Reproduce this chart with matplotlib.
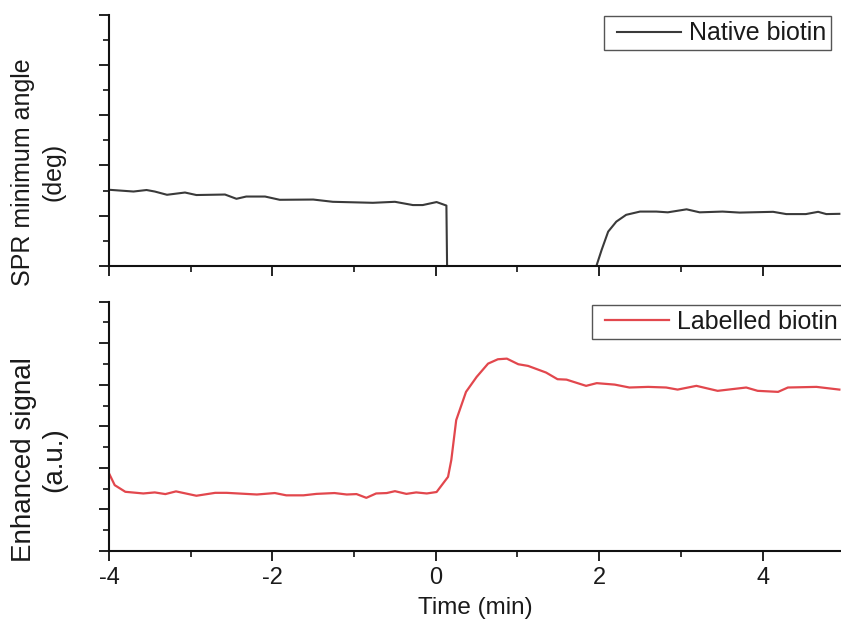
import matplotlib
matplotlib.use("Agg")
import numpy as np
import matplotlib.pyplot as plt
from matplotlib.ticker import MultipleLocator
from matplotlib.legend_handler import HandlerLine2D

plt.rcParams['font.family'] = ['Liberation Sans', 'DejaVu Sans']
plt.rcParams['axes.unicode_minus'] = False

# ---- data ----
native_t = [-4.00, -3.70, -3.54, -3.44, -3.29, -3.07, -2.93, -2.58, -2.44, -2.32,
            -2.09, -1.91, -1.50, -1.26, -0.77, -0.50, -0.28, -0.16, 0.01, 0.13,
            0.14, 1.00, 1.94, 1.97, 2.03, 2.11, 2.21, 2.33, 2.50, 2.70,
            2.84, 3.07, 3.23, 3.51, 3.72, 4.13, 4.29, 4.53, 4.68, 4.78, 4.94]
native_y = [3.03, 2.96, 3.02, 2.96, 2.83, 2.92, 2.82, 2.84, 2.67, 2.76,
            2.76, 2.63, 2.64, 2.55, 2.51, 2.55, 2.42, 2.42, 2.54, 2.40,
            -0.5, -0.5, -0.5, 0.03, 0.63, 1.36, 1.76, 2.03, 2.16, 2.16,
            2.13, 2.25, 2.13, 2.16, 2.12, 2.15, 2.06, 2.06, 2.15, 2.06, 2.07]

labelled_t = [-4.00, -3.93, -3.80, -3.58, -3.44, -3.31, -3.18, -2.93, -2.70, -2.56,
              -2.19, -1.97, -1.83, -1.62, -1.46, -1.24, -1.09, -0.97, -0.85, -0.73,
              -0.60, -0.50, -0.36, -0.24, -0.11, 0.01, 0.15, 0.19, 0.25, 0.37,
              0.50, 0.64, 0.76, 0.87, 1.01, 1.13, 1.35, 1.49, 1.60, 1.84,
              1.97, 2.19, 2.37, 2.60, 2.82, 2.96, 3.19, 3.45, 3.80, 3.94,
              4.19, 4.31, 4.66, 4.94]
labelled_y = [3.74, 3.17, 2.85, 2.77, 2.82, 2.74, 2.87, 2.66, 2.80, 2.80,
              2.72, 2.79, 2.68, 2.68, 2.75, 2.79, 2.72, 2.74, 2.56, 2.77,
              2.79, 2.88, 2.75, 2.82, 2.77, 2.84, 3.57, 4.38, 6.30, 7.66,
              8.38, 9.02, 9.23, 9.26, 8.99, 8.91, 8.59, 8.27, 8.25, 7.95,
              8.08, 8.01, 7.87, 7.90, 7.87, 7.77, 7.95, 7.71, 7.87, 7.71,
              7.66, 7.87, 7.90, 7.77]

xticks = [-4, -2, 0, 2, 4]
xtick_labels = ['-4', '-2', '0', '2', '4']


class PadHandler(HandlerLine2D):
    """Line handle with some empty space before the line starts."""
    def get_xdata(self, legend, xdescent, ydescent, width, height, fontsize):
        pad = 0.34 * fontsize
        xdata = np.array([-xdescent + pad, -xdescent + width])
        return xdata, np.array([-xdescent + 0.5 * width])


txt = '#1a1a1a'
fig = plt.figure(figsize=(8.41, 6.27), dpi=100)
ax1 = fig.add_axes([0.1296, 0.5762, 0.8704, 0.3998])
ax2 = fig.add_axes([0.1296, 0.1212, 0.8704, 0.3976], sharex=ax1)

ln1, = ax1.plot(native_t, native_y, color='#3a3a3a', lw=1.5, label='Native biotin')
ln2, = ax2.plot(labelled_t, labelled_y, color='#e2474d', lw=1.6, label='Labelled biotin')

for ax in (ax1, ax2):
    for s in ('top', 'right'):
        ax.spines[s].set_visible(False)
    for s in ('left', 'bottom'):
        ax.spines[s].set_linewidth(1.5)
        ax.spines[s].set_color('#111111')
    ax.tick_params(which='major', direction='out', length=7.5, width=1.3,
                   color='#111111', labelsize=17, labelcolor=txt, pad=4)
    ax.tick_params(which='minor', direction='out', length=4, width=1.2,
                   color='#111111')
    ax.tick_params(axis='y', labelleft=False)
    ax.xaxis.set_minor_locator(MultipleLocator(1))

ax1.set_xlim(-4, 4.96)
ax1.set_ylim(0, 10)
ax1.yaxis.set_major_locator(MultipleLocator(2))
ax1.yaxis.set_minor_locator(MultipleLocator(1))
ax1.tick_params(axis='x', labelbottom=False)

ax2.set_ylim(0, 12)
ax2.yaxis.set_major_locator(MultipleLocator(2))
ax2.yaxis.set_minor_locator(MultipleLocator(1))
ax2.set_xticks(xticks)
ax2.set_xticklabels(xtick_labels)
ax2.set_xlabel('Time (min)', fontsize=17.5, color=txt, labelpad=6)

leg_kw = dict(fontsize=18, fancybox=False, framealpha=1, borderaxespad=0,
              handlelength=2.9, handletextpad=0.3, borderpad=0.2,
              labelcolor=txt)
l1 = ax1.legend(handles=[ln1], loc='upper right', bbox_to_anchor=(0.986, 0.995),
                handler_map={ln1: PadHandler()}, **leg_kw)
l2 = ax2.legend(handles=[ln2], loc='upper right', bbox_to_anchor=(1.002, 0.987),
                handler_map={ln2: PadHandler()}, **leg_kw)
for lg in (l1, l2):
    lg.get_frame().set_edgecolor('#555555')
    lg.get_frame().set_linewidth(1.0)

fig.text(0.045, 0.7257, 'SPR minimum angle\n(deg)', rotation=90, ha='center',
         va='center', ma='center', fontsize=18, linespacing=1.35, color=txt)
fig.text(0.047, 0.2663, 'Enhanced signal\n(a.u.)', rotation=90, ha='center',
         va='center', ma='center', fontsize=20, linespacing=1.22, color=txt)

fig.savefig('out.png', dpi=100)
